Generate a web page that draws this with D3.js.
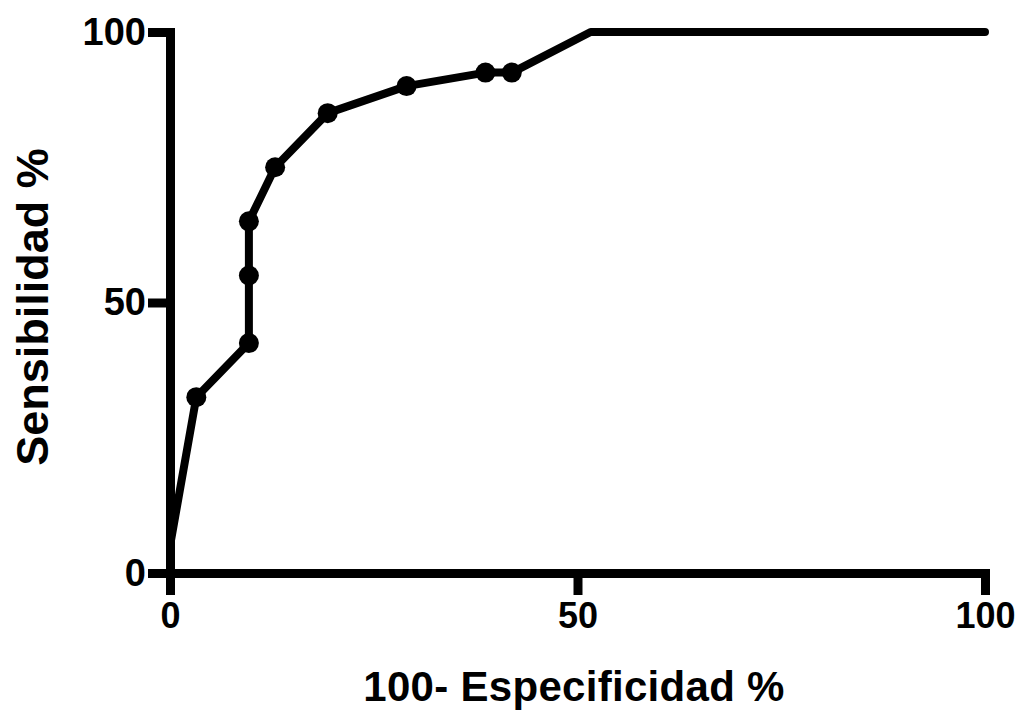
<!DOCTYPE html>
<html>
<head>
<meta charset="utf-8">
<script src="https://cdn.jsdelivr.net/npm/d3@7"></script>
<style>
  body { margin: 0; background: #fff; }
  text { font-family: "Liberation Sans", Arial, sans-serif; font-weight: bold; fill: #000; }
</style>
</head>
<body>
<div id="chart"></div>
<script>
// ROC curve data (100 - specificity vs sensitivity)
const fpr = [0, 3.23, 9.68, 9.68, 9.68, 12.9, 19.35, 29.03, 38.71, 41.94, 51.61, 100];
const tpr = [5, 32.5, 42.5, 55, 65, 75, 85, 90, 92.5, 92.5, 100, 100];
const hasMarker = [false, true, true, true, true, true, true, true, true, true, false, false];

const xTicks = [0, 50, 100];
const yTicks = [0, 50, 100];
const xTitle = '100- Especificidad %';
const yTitle = 'Sensibilidad %';

const width = 1024;
const height = 718;
const margin = { top: 32, right: 39, bottom: 145, left: 170 };
const innerW = width - margin.left - margin.right;
const innerH = height - margin.top - margin.bottom;

const points = fpr.map((x, i) => ({ x: x, y: tpr[i], marker: hasMarker[i] }));

const svg = d3.select('#chart')
  .append('svg')
  .attr('width', width)
  .attr('height', height);

const g = svg.append('g')
  .attr('transform', `translate(${margin.left},${margin.top})`);

const x = d3.scaleLinear().domain([0, 100]).range([0, innerW]);
const y = d3.scaleLinear().domain([0, 100]).range([innerH, 0]);

// Axes
const xAxis = g.append('g')
  .attr('transform', `translate(0,${innerH})`)
  .call(d3.axisBottom(x).tickValues(xTicks).tickSize(22).tickSizeOuter(0).tickPadding(7));

const yAxis = g.append('g')
  .call(d3.axisLeft(y).tickValues(yTicks).tickSize(22).tickSizeOuter(0).tickPadding(2));

[xAxis, yAxis].forEach(ax => {
  ax.select('.domain')
    .attr('stroke', '#000')
    .attr('stroke-width', 9)
    .attr('stroke-linecap', 'square');
  ax.selectAll('.tick line')
    .attr('stroke', '#000')
    .attr('stroke-width', 9);
});

xAxis.selectAll('.tick text')
  .attr('font-size', 36)
  .attr('font-family', '"Liberation Sans", Arial, sans-serif')
  .attr('font-weight', 'bold')
  .attr('fill', '#000');

yAxis.selectAll('.tick text')
  .attr('font-size', 38)
  .attr('font-family', '"Liberation Sans", Arial, sans-serif')
  .attr('font-weight', 'bold')
  .attr('fill', '#000');

// Curve
const line = d3.line()
  .x(d => x(d.x))
  .y(d => y(d.y));

g.append('path')
  .datum(points)
  .attr('fill', 'none')
  .attr('stroke', '#000')
  .attr('stroke-width', 8)
  .attr('stroke-linejoin', 'round')
  .attr('stroke-linecap', 'round')
  .attr('d', line);

g.append('g')
  .selectAll('circle')
  .data(points.filter(d => d.marker))
  .enter().append('circle')
  .attr('cx', d => x(d.x))
  .attr('cy', d => y(d.y))
  .attr('r', 10)
  .attr('fill', '#000');

// Axis titles
svg.append('text')
  .attr('x', 574)
  .attr('y', 701)
  .attr('text-anchor', 'middle')
  .attr('font-size', 42)
  .attr('letter-spacing', 0.3)
  .text(xTitle);

svg.append('text')
  .attr('transform', 'translate(48,307) rotate(-90)')
  .attr('text-anchor', 'middle')
  .attr('font-size', 45)
  .text(yTitle);
</script>
</body>
</html>
